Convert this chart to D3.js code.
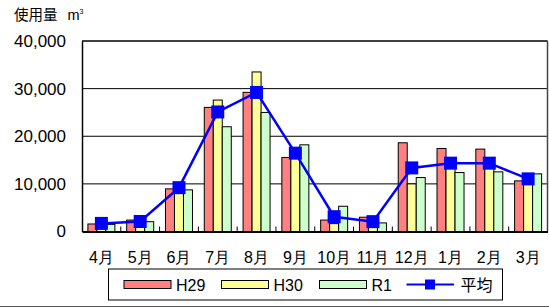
<!DOCTYPE html>
<html lang="ja">
<head>
<meta charset="UTF-8">
<title>使用量</title>
<script src="https://d3js.org/d3.v7.min.js"></script>
<style>
    body { margin: 0; background: #fff; }
    svg { font-family: "Liberation Sans", Arial, "Noto Sans CJK JP", sans-serif; }
</style>
</head>
<body>
<svg id="chart" width="549" height="307"></svg>
<script>
    const months = ["4月", "5月", "6月", "7月", "8月", "9月", "10月", "11月", "12月", "1月", "2月", "3月"];
    const seriesNames = ["H29", "H30", "R1"];
    const h29 = [1580, 2400, 8950, 26060, 29220, 15550, 2400, 3000, 18630, 17430, 17300, 10630];
    const h30 = [2000, 1850, 9950, 27600, 33500, 15650, 1650, 1400, 10000, 13250, 13250, 10400];
    const r1 = [1500, 2060, 8740, 22000, 25000, 18200, 5300, 1800, 11330, 12380, 12520, 12100];
    const avg = [1700, 2100, 9200, 25100, 29200, 16450, 3100, 2070, 13350, 14350, 14350, 11050];
    const yTicks = [0, 10000, 20000, 30000, 40000];
    const avgName = "平均";

    const colors = ["#ff8080", "#ffff99", "#ccffcc"];
    const lineColor = "#0000ff";

    const plotL = 82, plotR = 547.5, plotT = 41, plotB = 231.5;
    const svg = d3.select("#chart");

    const x = d3.scaleBand().domain(months).range([plotL, plotR]).padding(0);
    const xSub = d3.scaleBand().domain(seriesNames).range([-13.5, 13.5]).padding(0);
    const y = d3.scaleLinear().domain([0, 40000]).range([plotB, plotT]);

    // title
    const title = svg.append("text").attr("x", 14).attr("y", 19.5).attr("font-size", 14.5);
    title.append("tspan").text("使用量");
    title.append("tspan").attr("dx", 10).text("m");
    title.append("tspan").attr("font-size", 7).attr("dy", -6).text("3");

    // gridlines
    svg.append("g").selectAll("line").data(yTicks.slice(1)).join("line")
        .attr("x1", plotL).attr("x2", plotR)
        .attr("y1", d => y(d)).attr("y2", d => y(d))
        .attr("stroke", "#000").attr("stroke-width", 1);

    // bars
    const allSeries = [h29, h30, r1];
    allSeries.forEach((vals, si) => {
        svg.append("g").selectAll("rect").data(vals).join("rect")
            .attr("x", (d, i) => x(months[i]) + x.bandwidth() / 2 + xSub(seriesNames[si]))
            .attr("width", xSub.bandwidth())
            .attr("y", d => y(d))
            .attr("height", d => plotB - y(d))
            .attr("fill", colors[si])
            .attr("stroke", "#000").attr("stroke-width", 1);
    });

    // category boundary ticks
    svg.append("g").selectAll("line").data(months.slice(1)).join("line")
        .attr("x1", d => x(d)).attr("x2", d => x(d))
        .attr("y1", plotB).attr("y2", plotB - 5)
        .attr("stroke", "#000").attr("stroke-width", 1);

    // average line
    const line = d3.line()
        .x((d, i) => x(months[i]) + x.bandwidth() / 2)
        .y(d => y(d));
    svg.append("path").datum(avg)
        .attr("d", line)
        .attr("fill", "none").attr("stroke", lineColor).attr("stroke-width", 2.5);
    svg.append("g").selectAll("rect").data(avg).join("rect")
        .attr("x", (d, i) => x(months[i]) + x.bandwidth() / 2 - 6.5)
        .attr("y", d => y(d) - 6.5)
        .attr("width", 13).attr("height", 13)
        .attr("fill", lineColor);

    // frame
    svg.append("line").attr("x1", plotL).attr("x2", plotR).attr("y1", plotT).attr("y2", plotT)
        .attr("stroke", "#000").attr("stroke-width", 1.2);
    svg.append("line").attr("x1", plotR).attr("x2", plotR).attr("y1", plotT).attr("y2", plotB)
        .attr("stroke", "#444").attr("stroke-width", 1.5);

    // y axis
    const yAxis = svg.append("g").attr("transform", `translate(${plotL},0)`)
        .call(d3.axisLeft(y).tickValues(yTicks).tickFormat(d3.format(",")).tickSize(0).tickPadding(16));
    yAxis.select(".domain").attr("stroke", "#000").attr("stroke-width", 1.5);
    yAxis.selectAll("text").attr("font-size", 17).attr("fill", "#000")
        .attr("font-family", "Liberation Sans, Arial, sans-serif");

    // x axis
    const xAxis = svg.append("g").attr("transform", `translate(0,${plotB})`)
        .call(d3.axisBottom(x).tickSize(0).tickPadding(0));
    xAxis.select(".domain").attr("stroke", "#000").attr("stroke-width", 2.2);
    xAxis.selectAll("text").attr("font-size", 16).attr("fill", "#000")
        .attr("dy", null).attr("y", 31.5);

    // legend
    const lg = svg.append("g");
    lg.append("rect").attr("x", 108.5).attr("y", 269).attr("width", 394).attr("height", 31)
        .attr("fill", "#fff").attr("stroke", "#000").attr("stroke-width", 1);
    const lx = [124, 221.5, 319.5];
    seriesNames.forEach((name, i) => {
        lg.append("rect").attr("x", lx[i]).attr("y", 280.5).attr("width", 47).attr("height", 8)
            .attr("fill", colors[i]).attr("stroke", "#000").attr("stroke-width", 1);
        lg.append("text").attr("x", lx[i] + 52).attr("y", 290.5).attr("font-size", 16).text(name);
    });
    lg.append("line").attr("x1", 406.5).attr("x2", 454).attr("y1", 284.5).attr("y2", 284.5)
        .attr("stroke", lineColor).attr("stroke-width", 2);
    lg.append("rect").attr("x", 425).attr("y", 279.5).attr("width", 10).attr("height", 10)
        .attr("fill", lineColor);
    lg.append("text").attr("x", 460.5).attr("y", 290.5).attr("font-size", 16)
        .attr("font-family", "Noto Sans CJK JP, sans-serif").text(avgName);

    // outer bottom line
    svg.append("line").attr("x1", 0).attr("x2", 549).attr("y1", 306.5).attr("y2", 306.5)
        .attr("stroke", "#555").attr("stroke-width", 1);
</script>
</body>
</html>
